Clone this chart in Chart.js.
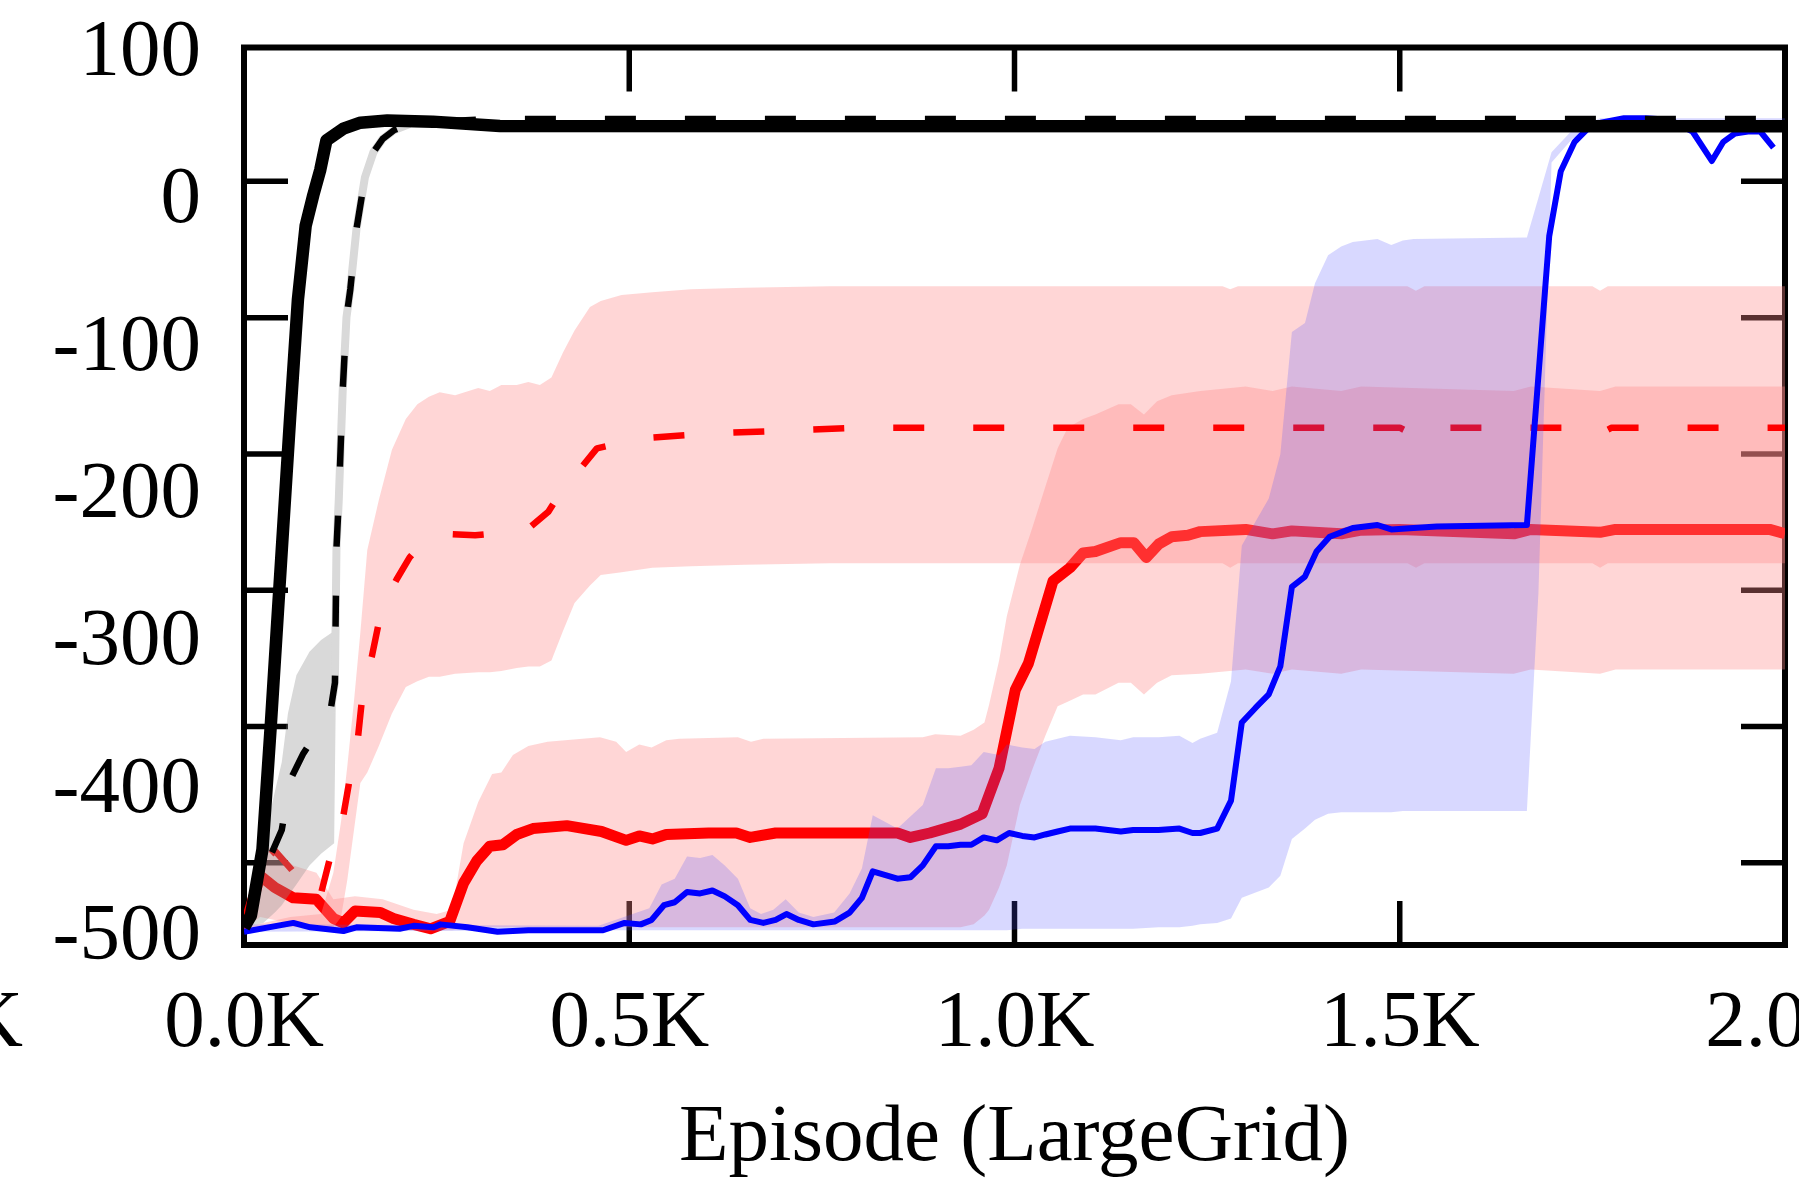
<!DOCTYPE html>
<html><head><meta charset="utf-8">
<script src="https://cdn.jsdelivr.net/npm/chart.js@4.4.1/dist/chart.umd.min.js"></script>
<style>html,body{margin:0;padding:0;background:#fff;}canvas{display:block;}</style>
</head><body>
<canvas id="c" width="1799" height="1179"></canvas>
<script>
// ---------------- data (episodes, reward) ----------------
const xTickValues = [0, 500, 1000, 1500, 2000];
const xTickLabels = ['0.0K', '0.5K', '1.0K', '1.5K', '2.0K'];
const yTickValues = [-500, -400, -300, -200, -100, 0, 100];
const yTickLabels = ['-500', '-400', '-300', '-200', '-100', '0', '100'];
const xTitle = 'Episode (LargeGrid)';

const blackSolid = [[0,-497],[9,-489],[24,-444],[35,-358],[49,-241],[60,-150],[70,-71],[80,-21],[90,0],[99,17],[107,37],[129,45],[151,49],[186,50.4],[245,49.7],[332,46.8],[2000,46.5]];
const blackDashed = [[0,-497],[20,-470],[34,-449],[49,-431],[60,-397],[77,-379],[112,-351],[118,-331],[120,-240],[123,-207],[128,-134],[133,-83],[138,-64],[146,-23],[157,12],[168,29],[180,38],[195,44],[215,48],[260,50],[320,51.5],[2000,51.5]];

const grayEp    = [0, 25, 40, 49, 57, 68, 85, 100, 117, 121];
const grayUpper = [-497, -440, -405, -385, -352, -326, -310, -302, -296, -255];
const grayLower = [-497, -494, -487, -482, -476, -468, -455, -447, -440, -255];

const blueMean = [[0,-500],[64,-494],[86,-497],[129,-499.5],[146,-497],[202,-498],[220,-496],[246,-497],[255,-495],[290,-497],[329,-500],[369,-499],[466,-499],[494,-494],[515,-495],[529,-492],[545,-482],[559,-480],[575,-473],[592,-474],[608,-472],[624,-476],[641,-482],[657,-492],[674,-494],[690,-492],[704,-488],[720,-492],[739,-495],[767,-493],[786,-487],[802,-477],[816,-459],[848,-464],[865,-463],[881,-455],[898,-442],[914,-442],[930,-441],[944,-441],[960,-436],[977,-438],[993,-433],[1010,-435],[1026,-436],[1040,-434],[1056,-432],[1072,-430],[1105,-430],[1138,-432],[1154,-431],[1187,-431],[1214,-430],[1231,-433],[1241,-433],[1263,-430],[1281,-411],[1295,-358],[1313,-348],[1330,-339],[1345,-320],[1360,-266],[1377,-259],[1392,-242],[1409,-232],[1424,-229],[1439,-226],[1471,-224],[1489,-227],[1518,-226],[1548,-225],[1665,-224],[1694,-28],[1709,16],[1727,36],[1744,45],[1761,49],[1791,52],[1819,52],[1850,51],[1880,43],[1905,23],[1920,36],[1935,41.6],[1952,43],[1968,43],[1985,32]];
const blueEp    = [0, 460, 526, 542, 559, 575, 592, 608, 624, 641, 657, 671, 687, 703, 720, 739, 766, 786, 802, 816, 848, 881, 898, 914, 930, 944, 960, 980, 990, 1010, 1026, 1040, 1072, 1105, 1138, 1154, 1187, 1214, 1231, 1241, 1263, 1281, 1295, 1330, 1345, 1360, 1377, 1390, 1407, 1424, 1439, 1471, 1489, 1504, 1518, 1665, 1680, 1697, 1724, 1760, 2000];
const blueUpper = [-495, -496, -484, -468, -464, -449, -450, -448, -455, -464, -484, -488, -485, -478, -487, -490, -487, -474, -457, -421, -430, -414, -389, -389, -388, -387, -378, -380, -373, -375, -376, -371, -367, -368, -370, -368, -368, -367, -372, -369, -365, -330, -238, -206, -176, -93, -87, -60, -41, -35, -32, -30, -34, -31, -30, -29, -2, 29, 44, 52, 52];
const blueLower = [-500, -499, -499, -499, -499, -499, -499, -499, -499, -499, -499, -499, -499, -499, -499, -499, -499, -499, -499, -499, -499, -499, -499, -499, -499, -499, -499, -499, -499, -498, -498, -498, -498, -498, -498, -498, -497, -497, -496, -495, -494, -491, -477, -470, -462, -437, -430, -424, -420, -419, -419, -419, -419, -418, -418, -418, -270, 22, 38, 45, 45];

const redDashed = [[0,-497],[20,-455],[40,-445],[62,-458],[86,-474],[98,-478],[116,-441],[129,-421],[140,-388],[148,-368],[155,-333],[166,-313],[179,-280],[198,-261],[215,-246],[235,-234],[260,-230],[300,-231],[340,-229],[370,-226],[395,-215],[413,-200],[430,-190],[458,-172],[475,-170],[500,-166],[520,-165],[600,-162],[700,-160],[800,-158],[1500,-158],[1515,-162],[1530,-158],[1745,-158],[1760,-162],[1775,-158],[2000,-158]];
const redDashedEp    = [0, 60, 100, 116, 126, 134, 143, 151, 160, 175, 192, 210, 225, 240, 254, 274, 304, 319, 334, 354, 369, 384, 399, 414, 429, 449, 463, 490, 530, 580, 650, 760, 1270, 1280, 1290, 1510, 1521, 1532, 1750, 1760, 1770, 2000];
const redDashedUpper = [-497, -490, -488, -460, -425, -388, -342, -297, -241, -207, -173, -152, -142, -137, -134, -136, -131, -133, -129, -129, -127, -129, -124, -107, -92, -76, -72, -68, -66, -64, -63, -62, -62, -64, -62, -62, -65, -62, -62, -65, -62, -62];
const redDashedLower = [-498, -497, -497, -497, -490, -465, -430, -399, -392, -374, -352, -334, -330, -327, -327, -325, -324, -324, -323, -321, -320, -320, -316, -296, -277, -265, -258, -256, -253, -252, -251, -250, -250, -253, -250, -250, -253, -250, -250, -253, -250, -250];

const redSolid = [[0,-498],[21,-462],[40,-470],[64,-477],[94,-478],[116,-491],[129,-494],[144,-486],[177,-487],[194,-491],[220,-495],[242,-498],[267,-493],[285,-467],[302,-452],[319,-442],[336,-441],[354,-434],[375,-430],[419,-428],[464,-432],[496,-438],[513,-435],[530,-437],[548,-434],[603,-433],[639,-433],[657,-436],[690,-433],[848,-433],[865,-436],[890,-433],[930,-427],[958,-420],[980,-389],[1001,-336],[1018,-318],[1050,-262],[1072,-253],[1089,-243],[1105,-242],[1138,-236],[1155,-236],[1171,-246],[1187,-237],[1204,-232],[1225,-231],[1241,-228.5],[1300,-227],[1335,-230],[1360,-228],[1424,-230],[1450,-227.5],[1500,-227],[1648,-230],[1670,-227],[1760,-229],[1780,-227],[1980,-227],[2000,-230]];
const redSolidEp    = [0, 21, 40, 64, 94, 116, 144, 180, 220, 250, 270, 285, 304, 322, 334, 349, 369, 394, 462, 483, 496, 513, 529, 548, 565, 641, 658, 674, 881, 897, 930, 947, 961, 967, 980, 990, 1007, 1023, 1040, 1056, 1069, 1089, 1105, 1135, 1151, 1168, 1185, 1204, 1241, 1300, 1335, 1360, 1424, 1450, 1648, 1670, 1760, 1780, 2000];
const redSolidUpper = [-497, -440, -445, -455, -460, -478, -476, -478, -485, -488, -485, -440, -412, -393, -392, -380, -374, -371, -368, -371, -378, -373, -375, -370, -369, -368, -371, -369, -368, -366, -367, -363, -358, -346, -316, -286, -251, -226, -198, -172, -158, -152, -149, -142, -142, -149, -140, -136, -133, -130, -133, -130, -133, -130, -133, -130, -133, -130, -130];
const redSolidLower = [-498, -490, -492, -495, -497, -499, -499, -499, -499, -499, -499, -498, -497, -497, -497, -497, -497, -497, -497, -497, -497, -497, -497, -497, -497, -497, -497, -497, -497, -497, -497, -495, -489, -485, -470, -455, -414, -390, -367, -347, -344, -339, -339, -331, -331, -339, -331, -326, -325, -322, -325, -322, -325, -322, -325, -322, -325, -322, -322];

// ---------------- chart ----------------
const FONT = "'Liberation Serif', 'Times New Roman', serif";
const pts = arr => arr.map(p => ({x: p[0], y: p[1]}));
const zip = (xs, ys) => xs.map((x, i) => ({x, y: ys[i]}));
const labelFor = (values, labels) => v => {
  const i = values.findIndex(t => Math.abs(t - v) < 1e-6);
  return i >= 0 ? labels[i] : '';
};

const lineDs = (data, color, width, order, dash) => ({
  data, borderColor: color, borderWidth: width, borderDash: dash || [], order,
  pointRadius: 0, fill: false, tension: 0, borderJoinStyle: 'round', borderCapStyle: 'butt'
});
const edgeDs = (data, order) => ({
  data, borderColor: 'rgba(0,0,0,0)', borderWidth: 0, order, pointRadius: 0, fill: false, tension: 0
});
const fillDs = (data, order, target, color) => ({
  data, borderColor: 'rgba(0,0,0,0)', borderWidth: 0, order, pointRadius: 0, tension: 0,
  backgroundColor: color, fill: {target: target, above: color, below: color}
});

const grayStrip = blackDashed.filter(p => p[0] >= 112 && p[0] <= 215);

const datasets = [
  lineDs(pts(blackSolid), '#000000', 12.5, 1),                     // 0
  lineDs(pts(blackDashed), '#000000', 6.5, 2, [31, 49]),           // 1
  lineDs(pts(grayStrip), '#d9d9d9', 8, 3),                         // 2
  edgeDs(zip(grayEp, grayUpper), 4),                               // 3
  fillDs(zip(grayEp, grayLower), 4, 3, 'rgba(145,145,145,0.345)'), // 4
  lineDs(pts(blueMean), '#0000ff', 6, 5),                          // 5
  edgeDs(zip(blueEp, blueUpper), 6),                               // 6
  fillDs(zip(blueEp, blueLower), 6, 6, 'rgba(77,77,255,0.22)'),    // 7
  lineDs(pts(redDashed), '#ff0000', 6.5, 7, [31, 49]),             // 8
  edgeDs(zip(redDashedEp, redDashedUpper), 8),                     // 9
  fillDs(zip(redDashedEp, redDashedLower), 8, 9, 'rgba(255,137,137,0.35)'), // 10
  lineDs(pts(redSolid), '#ff0000', 11, 9),                         // 11
  edgeDs(zip(redSolidEp, redSolidUpper), 10),                      // 12
  fillDs(zip(redSolidEp, redSolidLower), 10, 12, 'rgba(255,137,137,0.35)')  // 13
];

const framePlugin = {
  id: 'frame',
  beforeDatasetsDraw(chart) {
    const {ctx, chartArea: a, scales} = chart;
    const L = 44;
    ctx.save();
    ctx.strokeStyle = '#000';
    ctx.lineCap = 'butt';
    ctx.lineWidth = 5.5;
    const seg = (x1, y1, x2, y2) => { ctx.beginPath(); ctx.moveTo(x1, y1); ctx.lineTo(x2, y2); ctx.stroke(); };
    scales.x.ticks.forEach(t => {
      if (t.value <= scales.x.min || t.value >= scales.x.max) return;
      const px = scales.x.getPixelForValue(t.value);
      seg(px, a.top, px, a.top + L);
      seg(px, a.bottom, px, a.bottom - L);
    });
    const ym = scales.yMarks;
    ym.ticks.forEach(t => {
      if (t.value <= ym.min || t.value >= ym.max) return;
      const py = ym.getPixelForValue(t.value);
      seg(a.left, py, a.left + L, py);
      seg(a.right, py, a.right - L, py);
    });
    ctx.lineWidth = 6;
    ctx.strokeRect(a.left, a.top, a.right - a.left, a.bottom - a.top);
    ctx.restore();
  },
  afterDraw(chart) {
    // fragment of a neighbouring panel's tick label at the far left
    const ctx = chart.ctx;
    ctx.save();
    ctx.fillStyle = '#000';
    ctx.font = '81px ' + FONT;
    ctx.textAlign = 'right';
    ctx.textBaseline = 'middle';
    ctx.fillText('2.0K', 23, 1025);
    ctx.restore();
  }
};

new Chart(document.getElementById('c'), {
  type: 'line',
  data: {datasets},
  options: {
    responsive: false,
    animation: false,
    devicePixelRatio: 1,
    events: [],
    layout: {padding: {top: 47.5, right: 14, bottom: 0, left: 0}},
    plugins: {legend: {display: false}, tooltip: {enabled: false}},
    scales: {
      x: {
        type: 'linear', position: 'bottom', min: 0, max: 2000,
        afterBuildTicks: s => { s.ticks = xTickValues.map(v => ({value: v})); },
        ticks: {
          padding: 31, autoSkip: false, maxRotation: 0, minRotation: 0,
          color: '#000', font: {family: FONT, size: 81},
          callback: labelFor(xTickValues, xTickLabels)
        },
        title: {display: true, text: xTitle, color: '#000', font: {family: FONT, size: 81, lineHeight: 1.0}, padding: {top: 0, bottom: 0}},
        grid: {display: false, drawTicks: false},
        border: {display: false},
        afterFit: s => { s.height = 234; s.paddingLeft = 0; s.paddingRight = 0; }
      },
      y: {
        type: 'linear', position: 'left', min: -509, max: 100,
        afterBuildTicks: s => { s.ticks = yTickValues.map(v => ({value: v})); },
        ticks: {
          padding: 43, labelOffset: 6, autoSkip: false,
          color: '#000', font: {family: FONT, size: 81},
          callback: labelFor(yTickValues, yTickLabels)
        },
        grid: {display: false, drawTicks: false},
        border: {display: false},
        afterFit: s => { s.width = 244; s.paddingTop = 0; s.paddingBottom = 0; }
      },
      yMarks: {
        type: 'linear', position: 'left', display: false, min: -560.3, max: 98.2,
        ticks: {stepSize: 100, includeBounds: false},
        grid: {display: false}
      }
    }
  },
  plugins: [framePlugin]
});
</script>
</body></html>
